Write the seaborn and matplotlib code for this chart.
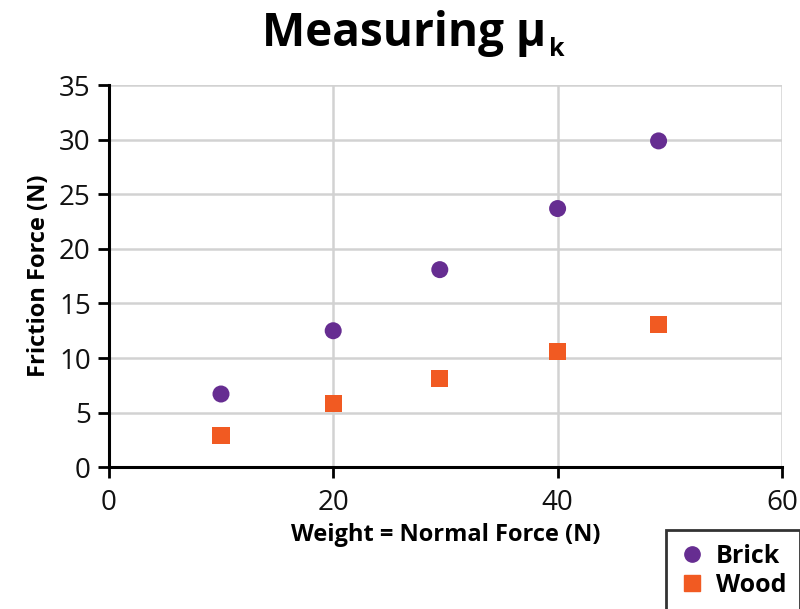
import matplotlib
matplotlib.use("Agg")
import matplotlib.pyplot as plt
import pandas as pd
import seaborn as sns

# values
weight = [10, 20, 29.5, 40, 49]
brick_friction = [6.7, 12.5, 18.1, 23.7, 29.9]
wood_friction = [2.9, 5.8, 8.1, 10.6, 13.1]
materials = ["Brick", "Wood"]
colors = {"Brick": "#662d91", "Wood": "#f15a22"}
markers = {"Brick": "o", "Wood": "s"}
x_ticks = [0, 20, 40, 60]
y_ticks = [0, 5, 10, 15, 20, 25, 30, 35]

df = pd.concat(
    [
        pd.DataFrame({"weight": weight, "friction": brick_friction, "material": "Brick"}),
        pd.DataFrame({"weight": weight, "friction": wood_friction, "material": "Wood"}),
    ],
    ignore_index=True,
)

sns.set_theme(style="white")
plt.rcParams["font.family"] = ["Open Sans", "DejaVu Sans"]
plt.rcParams["text.color"] = "black"
plt.rcParams["axes.labelcolor"] = "black"

fig = plt.figure(figsize=(8, 6.09), dpi=100)
ax = fig.add_axes([0.136, 0.233, 0.8415, 0.627])

sns.scatterplot(
    data=df,
    x="weight",
    y="friction",
    hue="material",
    style="material",
    hue_order=materials,
    style_order=materials,
    palette=colors,
    markers=markers,
    s=150,
    linewidth=0,
    legend=False,
    ax=ax,
    zorder=3,
)

ax.set_xlim(0, 60)
ax.set_ylim(0, 35)
ax.set_xticks(x_ticks)
ax.set_yticks(y_ticks)
ax.grid(True, color="#d2d2d2", linewidth=1.8)
ax.set_axisbelow(True)
for side in ["top", "right"]:
    ax.spines[side].set_visible(False)
for side in ["left", "bottom"]:
    ax.spines[side].set_color("black")
    ax.spines[side].set_linewidth(2.2)
ax.tick_params(axis="both", direction="out", length=8, width=2, color="black",
               labelsize=20, labelcolor="#111111", pad=5,
               left=True, bottom=True)
ax.tick_params(axis="x", pad=8)
ax.set_xlabel("Weight = Normal Force (N)", fontsize=17, fontweight="bold",
              labelpad=4, color="black")
ax.set_ylabel("Friction Force (N)", fontsize=17, fontweight="bold",
              labelpad=6, color="black")

# title with subscript k
title = fig.text(0.505, 0.945, "Measuring μ", ha="center", va="center",
                 fontsize=33, fontweight="bold", color="black")
fig.canvas.draw()
bb = title.get_window_extent().transformed(fig.transFigure.inverted())
fig.text(bb.x1 + 0.003, bb.y0 + 0.012, "k", ha="left", va="center",
         fontsize=18, fontweight="bold", color="black")

# legend box in the lower right corner, partly cut off like the original
handles = [
    plt.Line2D([], [], marker=markers[m], color=colors[m], linestyle="",
               markersize=11, label=m)
    for m in materials
]
leg = fig.legend(
    handles=handles,
    loc="upper left",
    bbox_to_anchor=(666 / 800, 1 - 530 / 609),
    bbox_transform=fig.transFigure,
    frameon=True,
    fancybox=False,
    handletextpad=0.45,
    handlelength=1.0,
    borderpad=0.55,
    labelspacing=0.15,
    borderaxespad=0,
    prop={"size": 18, "weight": "bold"},
)
leg.get_frame().set_edgecolor("black")
leg.get_frame().set_linewidth(2)
for t in leg.get_texts():
    t.set_color("black")

fig.savefig("out.png", dpi=100)
